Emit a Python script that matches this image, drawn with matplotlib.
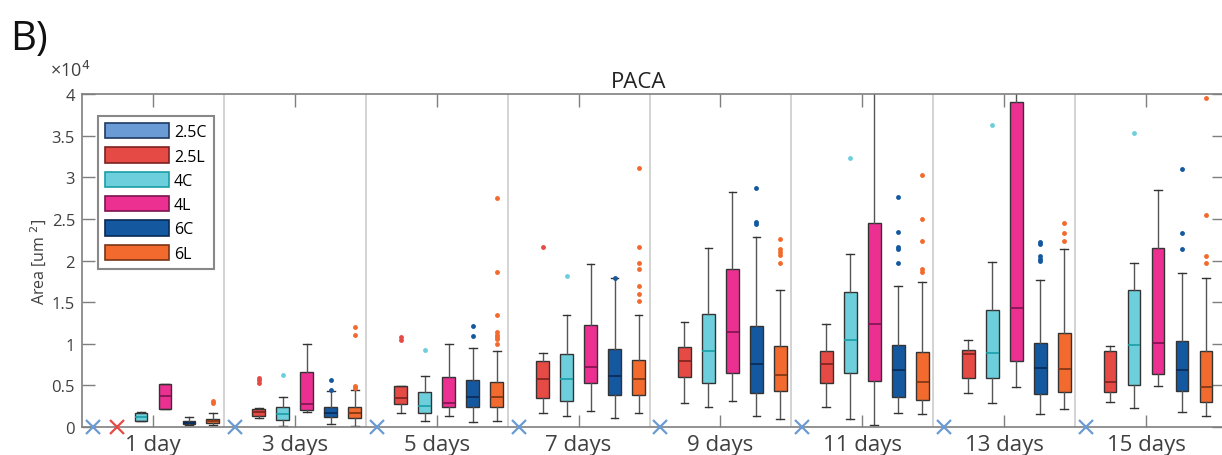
import matplotlib
matplotlib.use("Agg")
import matplotlib.pyplot as plt
import matplotlib.patches as mpatches
from matplotlib.ticker import FuncFormatter
import numpy as np

plt.rcParams["font.family"] = ["Open Sans", "DejaVu Sans"]

days = ["1 day", "3 days", "5 days", "7 days", "9 days", "11 days", "13 days", "15 days"]
series = ["2.5C", "2.5L", "4C", "4L", "6C", "6L"]
colors = ["#6a9bd4", "#e64a45", "#6ecfdc", "#ec3091", "#1458a0", "#f26a2e"]
edges = ["#1f3a66", "#7a2220", "#1a9ea8", "#7a1450", "#0a2a55", "#7a3514"]

# one row per day: whislo, q1, median, q3, whishi  (area, um^2); None = no data
box_25C = [None] * 8
box_25L = [
    None,
    [1050, 1360, 1770, 2170, 2250],
    [1650, 2730, 3460, 4940, 4940],
    [1650, 3460, 5780, 7870, 8880],
    [2850, 6060, 7870, 9600, 12570],
    [2370, 5260, 7590, 9160, 12410],
    [4060, 5870, 8760, 9280, 10480],
    [3050, 4180, 5460, 9070, 9760],
]
box_4C = [
    [700, 760, 1240, 1720, 1800],
    [120, 840, 1570, 2450, 3650],
    [760, 1650, 2570, 4180, 6180],
    [1360, 3170, 5780, 8760, 13410],
    [2450, 5260, 9070, 13580, 21450],
    [930, 6470, 10400, 16230, 20800],
    [2850, 5940, 8880, 14010, 19840],
    [2250, 5060, 9880, 16510, 19640],
]
box_4L = [
    [2150, 2170, 3730, 5180, 5200],
    [1840, 2050, 2770, 6660, 10000],
    [1360, 2370, 2930, 6060, 10000],
    [1930, 5260, 7190, 12290, 19600],
    [3130, 6540, 11410, 18920, 28280],
    [240, 5580, 12410, 24460, 43000],
    [4860, 7950, 14300, 39000, 43000],
    [4940, 6350, 10080, 21450, 28430],
]
box_6C = [
    [200, 320, 500, 720, 1200],
    [360, 1170, 1720, 2450, 4370],
    [570, 2450, 3580, 5660, 9480],
    [1050, 3820, 6140, 9400, 17870],
    [1360, 4060, 7550, 12080, 22850],
    [1720, 3650, 6870, 9880, 16990],
    [1530, 3940, 7070, 10080, 17710],
    [1840, 4370, 6870, 10280, 18520],
]
box_6L = [
    [240, 440, 720, 930, 1650],
    [120, 1050, 1720, 2450, 4460],
    [720, 2450, 3650, 5380, 9160],
    [1650, 3820, 5780, 8070, 13410],
    [960, 4340, 6270, 9760, 16420],
    [1570, 3250, 5460, 9000, 17390],
    [2130, 4180, 6990, 11290, 21410],
    [1360, 3050, 4860, 9160, 17910],
]

# outliers per day
out_25C = [[]] * 8
out_25L = [[], [5340, 5660, 5940], [10500, 10800], [21600], [], [], [], []]
out_4C = [[], [6270], [9280], [18110], [], [32370], [36300], [35270]]
out_4L = [[]] * 8
out_6C = [
    [], [4400, 5660], [10880, 12170], [17900], [24340, 24620, 28760],
    [19720, 21330, 21650, 23450, 27670], [19920, 20200, 20520, 21930, 22200],
    [21330, 23250, 31050],
]
out_6L = [
    [2850, 3130], [4740, 4980, 11080, 11960],
    [10000, 10570, 10800, 11080, 11360, 13490, 18590, 27470],
    [15100, 15940, 16990, 19000, 19720, 21650, 31170],
    [19640, 20720, 21000, 21330, 22530],
    [18670, 18920, 22290, 25020, 30240],
    [22330, 23330, 24460],
    [19640, 20520, 25460, 39480],
]

boxes = [box_25C, box_25L, box_4C, box_4L, box_6C, box_6L]
outliers = [out_25C, out_25L, out_4C, out_4L, out_6C, out_6L]

fig = plt.figure(figsize=(12.22, 4.56), dpi=100)
ax = fig.add_axes([82 / 1222, 28 / 456, 1142 / 1222, 333 / 456])

step = 0.169
width = 0.09
group_x = np.arange(1, len(days) + 1)

for k, name in enumerate(series):
    offset = (k - 2.5) * step
    stats, pos = [], []
    for i in range(len(days)):
        row = boxes[k][i]
        if row is None:
            # missing condition: cross at zero
            ax.plot(group_x[i] + offset, 0, marker="x", color=colors[k],
                    markersize=10, markeredgewidth=1.6, clip_on=False, zorder=5)
            continue
        lo, q1, med, q3, hi = row
        stats.append(dict(whislo=lo, q1=q1, med=med, q3=q3, whishi=hi,
                          fliers=outliers[k][i]))
        pos.append(group_x[i] + offset)
    if not stats:
        continue
    ax.bxp(stats, positions=pos, widths=width, capwidths=0.055,
           patch_artist=True, manage_ticks=False,
           boxprops=dict(facecolor=colors[k], edgecolor="#333333", linewidth=1),
           medianprops=dict(color=edges[k], linewidth=1.2),
           whiskerprops=dict(color="#555555", linewidth=1),
           capprops=dict(color="#333333", linewidth=1),
           flierprops=dict(marker="o", markersize=3.5, markerfacecolor=colors[k],
                           markeredgecolor="none"))

for b in group_x[:-1] + 0.5:
    ax.axvline(b, color="#cccccc", linewidth=1.2, zorder=0)

ax.set_xlim(0.5, 8.5 + 7 / 142)
ax.set_ylim(0, 40000)
ax.set_xticks(group_x)
ax.set_xticklabels(days, fontsize=16, color="#404040")
ax.set_yticks(np.arange(0, 40001, 5000))
ax.yaxis.set_major_formatter(FuncFormatter(lambda v, _: f"{v / 1e4:g}"))
ax.tick_params(axis="y", labelsize=12, labelcolor="#404040", pad=5)
ax.tick_params(direction="in", length=9, width=1, color="#7f7f7f",
               top=True, right=True)
ax.tick_params(axis="x", pad=5)
for s in ax.spines.values():
    s.set_color("#7f7f7f")
    s.set_linewidth(1.2)

ax.set_ylabel("Area [um $^2$]", fontsize=11.5, color="#404040", labelpad=2)
ax.set_title("PACA", fontsize=16, color="#222222", x=0.487, pad=5)

handles = [mpatches.Patch(facecolor=c, edgecolor=e, linewidth=1.2, label=n)
           for n, c, e in zip(series, colors, edges)]
leg = ax.legend(handles=handles, loc="upper left", bbox_to_anchor=(0.014, 0.934),
                fontsize=11.5, handlelength=4.0, handleheight=1.1, labelspacing=0.45,
                handletextpad=0.3, borderpad=0.45, borderaxespad=0, fancybox=False,
                framealpha=1)
leg.get_frame().set_edgecolor("#888888")
leg.get_frame().set_linewidth(1.5)

fig.text(50 / 1222, 1 - 77 / 456, "×10$^4$", fontsize=13, color="#404040")
fig.text(10 / 1222, 1 - 50 / 456, "B)", fontsize=29, color="#111111")

fig.savefig("out.png", dpi=100)
